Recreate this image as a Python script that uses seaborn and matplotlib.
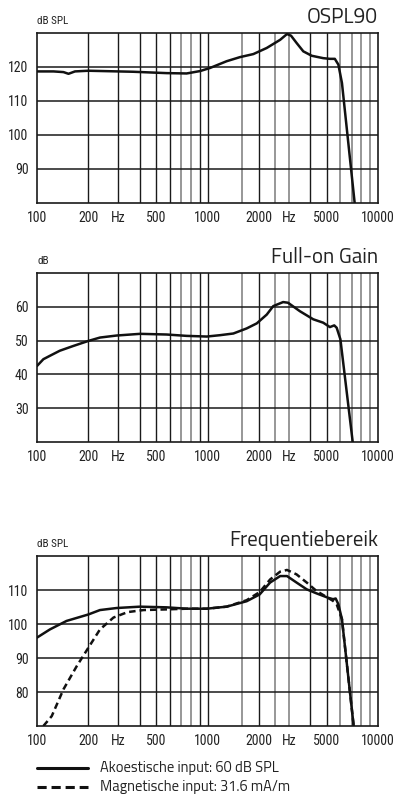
import matplotlib
matplotlib.use("Agg")
import matplotlib.pyplot as plt
import seaborn as sns
import pandas as pd

# --- data -----------------------------------------------------------------
ospl_freq = [101, 125, 143, 153, 167, 200, 367, 576, 754, 904, 1033, 1295, 1549,
             1857, 2226, 2668, 2926, 3091, 3327, 3647, 4090, 4771, 5221, 5582,
             5856, 6146, 7297]
ospl_db = [118.7, 118.7, 118.5, 118.0, 118.7, 118.9, 118.6, 118.2, 118.1, 118.8,
           119.7, 121.7, 122.9, 123.8, 125.6, 128.0, 129.7, 129.2, 127.1, 124.6,
           123.3, 122.6, 122.4, 122.4, 120.7, 115.3, 80.0]

gain_freq = [100, 109, 119, 136, 163, 200, 234, 293, 402, 576, 754, 990, 1183,
             1418, 1697, 1946, 2226, 2430, 2777, 2967, 3481, 4172, 4771, 5221,
             5540, 5723, 6018, 7107]
gain_db = [42.5, 44.5, 45.5, 47.0, 48.4, 49.9, 50.9, 51.5, 52.0, 51.8, 51.4, 51.2,
           51.6, 52.1, 53.6, 55.1, 57.7, 60.2, 61.4, 61.2, 58.7, 56.3, 55.3, 54.0,
           54.5, 53.8, 50.4, 20.0]

acou_freq = [100, 119, 149, 200, 234, 293, 402, 576, 754, 990, 1295, 1697, 2023,
             2330, 2668, 2926, 3327, 3818, 4362, 5109, 5450, 5647, 5856, 6146, 7200]
acou_db = [96.0, 98.4, 100.9, 102.8, 104.1, 104.7, 105.1, 104.9, 104.5, 104.5,
           105.1, 106.7, 108.7, 112.2, 114.1, 114.1, 112.2, 110.2, 109.0, 107.7,
           107.3, 107.5, 105.8, 101.4, 70.0]

magn_freq = [109, 122, 143, 171, 200, 234, 281, 340, 421, 576, 754, 990, 1295,
             1697, 2023, 2330, 2668, 2926, 3327, 3818, 4362, 5450, 5723, 6146, 7200]
magn_db = [70.0, 72.9, 80.8, 87.6, 93.0, 98.4, 101.9, 103.5, 104.1, 104.3, 104.5,
           104.5, 105.1, 107.0, 109.4, 113.1, 115.4, 115.9, 114.6, 112.2, 109.7,
           106.8, 105.8, 101.4, 70.0]

titles = ["OSPL90", "Full-on Gain", "Frequentiebereik"]
unit_labels = ["dB SPL", "dB", "dB SPL"]
y_ticks = [[90, 100, 110, 120], [30, 40, 50, 60], [80, 90, 100, 110]]
y_limits = [(80, 130), (20, 70), (70, 120)]
x_ticks = [100, 200, 300, 500, 1000, 2000, 3000, 5000, 10000]
x_ticklabels = ["100", "200", "Hz", "500", "1000", "2000", "Hz", "5000", "10000"]
legend_labels = ["Akoestische input: 60 dB SPL", "Magnetische input: 31.6 mA/m"]

# frequency grid: dark and light lines
grid_dark = [200, 300, 400, 500, 600, 900, 1000, 2000, 4000, 5000]
grid_light = [700, 800, 1600, 2500, 3000, 6000, 7000, 8000, 9000]

# --- style ----------------------------------------------------------------
sns.set_style("white")
plt.rcParams["font.family"] = ["Roboto Condensed", "DejaVu Sans"]
TITLE_FONT = ["Titillium Web", "DejaVu Sans"]

W, H = 394, 796
fig = plt.figure(figsize=(W / 100, H / 100), dpi=100)

panels_px = [(33, 203), (273, 442), (556, 726)]
left_px, right_px = 37, 378

axes = []
for (top, bottom) in panels_px:
    ax = fig.add_axes([left_px / W, 1 - bottom / H, (right_px - left_px) / W,
                       (bottom - top) / H])
    axes.append(ax)

dash = (0, (2.6, 1.6))
frames = [
    [(ospl_freq, ospl_db, "-")],
    [(gain_freq, gain_db, "-")],
    [(acou_freq, acou_db, "-"), (magn_freq, magn_db, dash)],
]

for i, ax in enumerate(axes):
    ax.set_xscale("log")
    ax.set_xlim(100, 10000)
    ax.set_ylim(*y_limits[i])
    for f in grid_light:
        ax.axvline(f, color="#8f8f8f", lw=1.3, zorder=1)
    for f in grid_dark:
        ax.axvline(f, color="#1a1a1a", lw=1.0, zorder=1)
    for yv in y_ticks[i]:
        ax.axhline(yv, color="#1a1a1a", lw=1.1, zorder=1)

    for fx, fy, ls in frames[i]:
        df = pd.DataFrame({"f": fx, "db": fy})
        sns.lineplot(data=df, x="f", y="db", ax=ax, color="#111111", lw=1.8,
                     linestyle=ls, estimator=None, sort=False, zorder=3)

    ax.set_xlabel("")
    ax.set_ylabel("")
    ax.set_xticks(x_ticks)
    ax.set_xticklabels(x_ticklabels)
    ax.xaxis.set_minor_locator(matplotlib.ticker.NullLocator())
    ax.set_yticks(y_ticks[i])
    ax.set_yticklabels([str(v) for v in y_ticks[i]])
    ax.tick_params(axis="both", length=0, labelsize=10, colors="#222222")
    ax.tick_params(axis="x", pad=6)
    ax.tick_params(axis="y", pad=6)
    for sp in ax.spines.values():
        sp.set_visible(True)
        sp.set_color("#1a1a1a")
        sp.set_linewidth(1.2)

    ax.text(1.0, 1.03, titles[i], transform=ax.transAxes, ha="right", va="bottom",
            fontsize=15, family=TITLE_FONT, color="#222222")
    ax.text(0.0, 1.04, unit_labels[i], transform=ax.transAxes, ha="left",
            va="bottom", fontsize=8, color="#222222")

# legend drawn below the last panel
for k, (ls, label) in enumerate(zip(["-", (0, (3.0, 1.6))], legend_labels)):
    y = 1 - (768 + k * 18.5) / H
    fig.add_artist(plt.Line2D([37 / W, 88 / W], [y, y], color="#111111",
                              lw=2.2, linestyle=ls, transform=fig.transFigure))
    fig.text(100 / W, y, label, ha="left", va="center", fontsize=10.5,
             family=TITLE_FONT, color="#222222")

fig.savefig("out.png", dpi=100)
